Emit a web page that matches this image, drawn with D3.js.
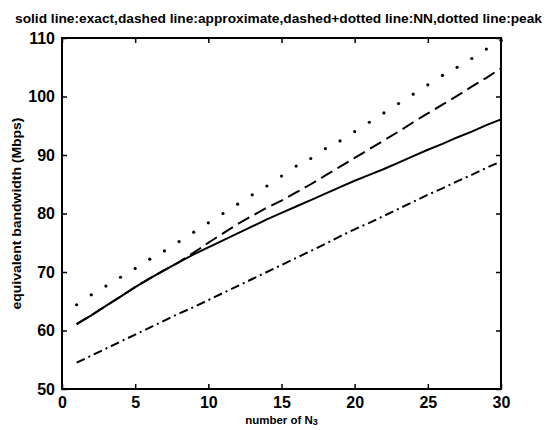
<!DOCTYPE html>
<html>
<head>
<meta charset="utf-8">
<script src="https://cdn.jsdelivr.net/npm/d3@7"></script>
<style>
  body { margin: 0; background: #fff; }
  svg { display: block; }
  .tick-label { font-family: "Liberation Sans Narrow", "Liberation Sans", Arial, sans-serif; font-weight: bold; font-size: 16px; }
  .lbl { font-family: "Liberation Sans", Arial, sans-serif; font-weight: bold; }
</style>
</head>
<body>
<svg id="chart" width="546" height="430"></svg>
<script>
// number of sources on the x axis
const nValues = d3.range(1, 31);

const exact = [61.1, 62.6, 64.2, 65.8, 67.4, 68.9, 70.3, 71.7, 73.0, 74.2,
  75.4, 76.6, 77.8, 79.0, 80.1, 81.2, 82.3, 83.4, 84.5, 85.6,
  86.6, 87.6, 88.7, 89.8, 90.9, 91.9, 93.0, 94.0, 95.1, 96.1];

const approximate = [61.1, 62.6, 64.2, 65.8, 67.4, 68.9, 70.3, 71.7, 73.3, 75.0,
  76.6, 78.2, 79.6, 81.0, 82.2, 83.6, 85.0, 86.5, 88.0, 89.5,
  91.0, 92.5, 94.0, 95.6, 97.1, 98.6, 100.1, 101.7, 103.2, 104.8];

const nn = [54.5, 55.7, 56.9, 58.1, 59.3, 60.5, 61.7, 62.9, 64.0, 65.2,
  66.4, 67.6, 68.8, 70.0, 71.2, 72.4, 73.6, 74.8, 76.1, 77.3,
  78.4, 79.6, 80.8, 82.0, 83.2, 84.3, 85.5, 86.6, 87.8, 88.9];

const peak = [64.4, 66.1, 67.6, 69.1, 70.6, 72.2, 73.6, 75.2, 76.8, 78.4,
  80.0, 81.6, 83.2, 84.7, 86.4, 88.1, 89.4, 91.1, 92.4, 94.0,
  95.6, 97.2, 98.8, 100.4, 102.0, 103.6, 105.0, 106.5, 108.1, 109.6];

const xTicks = [0, 5, 10, 15, 20, 25, 30];
const yTicks = [50, 60, 70, 80, 90, 100, 110];

const titleText = "solid line:exact,dashed line:approximate,dashed+dotted line:NN,dotted line:peak";

const svg = d3.select("#chart");
const margin = {top: 38, right: 45, bottom: 41, left: 62};
const width = 546 - margin.left - margin.right;
const height = 430 - margin.top - margin.bottom;

const g = svg.append("g").attr("transform", "translate(" + margin.left + "," + margin.top + ")");

const x = d3.scaleLinear().domain([0, 30]).range([0, width]);
const y = d3.scaleLinear().domain([50, 110]).range([height, 0]);

const line = d3.line()
    .x(function(d, i) { return x(nValues[i]); })
    .y(function(d) { return y(d); });

// series
g.append("path")
  .datum(exact)
  .attr("fill", "none")
  .attr("stroke", "#000")
  .attr("stroke-width", 2)
  .attr("stroke-linejoin", "round")
  .attr("d", line);

g.append("path")
  .datum(approximate)
  .attr("fill", "none")
  .attr("stroke", "#000")
  .attr("stroke-width", 2)
  .attr("stroke-dasharray", "13,6")
  .attr("d", line);

g.append("path")
  .datum(nn)
  .attr("fill", "none")
  .attr("stroke", "#000")
  .attr("stroke-width", 2)
  .attr("stroke-dasharray", "9,4,2,4")
  .attr("d", line);

g.selectAll(".peak")
  .data(peak)
  .enter().append("circle")
  .attr("class", "peak")
  .attr("cx", function(d, i) { return x(nValues[i]); })
  .attr("cy", function(d) { return y(d); })
  .attr("r", 1.6)
  .attr("fill", "#000");

// axes, ticks inside on all four sides
function styleAxis(sel) {
  sel.select(".domain").remove();
  sel.selectAll(".tick line").attr("stroke", "#000").attr("stroke-width", 1.5);
  sel.selectAll(".tick text").attr("class", "tick-label").attr("fill", "#000");
}

g.append("g")
  .attr("transform", "translate(0," + height + ")")
  .call(d3.axisBottom(x).tickValues(xTicks).tickSize(-5).tickPadding(8))
  .call(styleAxis);

g.append("g")
  .call(d3.axisTop(x).tickValues(xTicks).tickSize(-5).tickFormat(""))
  .call(styleAxis);

g.append("g")
  .call(d3.axisLeft(y).tickValues(yTicks).tickSize(-5).tickPadding(7))
  .call(styleAxis);

g.append("g")
  .attr("transform", "translate(" + width + ",0)")
  .call(d3.axisRight(y).tickValues(yTicks).tickSize(-5).tickFormat(""))
  .call(styleAxis);

g.append("rect")
  .attr("width", width)
  .attr("height", height)
  .attr("fill", "none")
  .attr("stroke", "#000")
  .attr("stroke-width", 2);

// title and axis labels
svg.append("text")
  .attr("class", "lbl")
  .attr("x", 15)
  .attr("y", 23)
  .attr("font-size", 12)
  .attr("textLength", 527)
  .attr("lengthAdjust", "spacingAndGlyphs")
  .text(titleText);

const xl = svg.append("text")
  .attr("class", "lbl")
  .attr("x", margin.left + width / 2)
  .attr("y", 424)
  .attr("text-anchor", "middle")
  .attr("font-size", 11.5)
  .text("number of N");
xl.append("tspan").attr("font-size", 9).attr("dy", 1).text("3");

svg.append("text")
  .attr("class", "lbl")
  .attr("transform", "translate(21," + (margin.top + height / 2) + ") rotate(-90)")
  .attr("text-anchor", "middle")
  .attr("font-size", 12)
  .attr("textLength", 192)
  .attr("lengthAdjust", "spacingAndGlyphs")
  .text("equivalent bandwidth (Mbps)");
</script>
</body>
</html>
